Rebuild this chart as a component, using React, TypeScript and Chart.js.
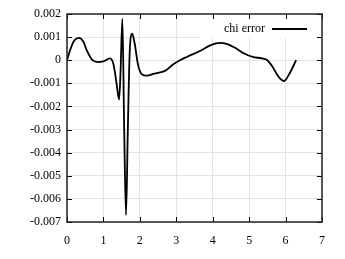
import React, { useEffect, useRef } from "react";
import { Chart, registerables } from "chart.js";

Chart.register(...registerables);

const xValues = [0, 0.1, 0.2, 0.33, 0.45, 0.55, 0.7, 0.85, 1.0, 1.18, 1.28, 1.36, 1.43, 1.47, 1.52, 1.57, 1.62, 1.67, 1.72, 1.79, 1.86, 1.95, 2.05, 2.19, 2.4, 2.7, 2.9, 3.1, 3.3, 3.65, 3.95, 4.2, 4.4, 4.6, 4.85, 5.1, 5.35, 5.5, 5.65, 5.8, 5.96, 6.1, 6.29];
const chiError = [0, 0.0005, 0.00085, 0.00097, 0.0008, 0.0004, 0.0, -0.00008, -0.00005, 0.00008, -0.0002, -0.001, -0.0017, -0.0005, 0.0018, -0.003, -0.0067, -0.003, 0.0003, 0.00115, 0.0007, -0.0002, -0.0006, -0.00067, -0.00058, -0.00045, -0.0002, 0.0, 0.00015, 0.0004, 0.00065, 0.00075, 0.0007, 0.00055, 0.0003, 0.00014, 0.00008, 0.0, -0.0003, -0.0007, -0.0009, -0.0006, 0.0];
const seriesLabel = "chi error";
const xMin = 0, xMax = 7, xStep = 1;
const yMin = -0.007, yMax = 0.002, yStep = 0.001;

const FONT = "'Liberation Serif', 'Times New Roman', serif";

const framePlugin = {
  id: "frame",
  beforeDatasetsDraw(chart: any) {
    const { ctx, chartArea } = chart;
    ctx.save();
    ctx.fillStyle = "#ffffff";
    ctx.fillRect(chartArea.right - 122, chartArea.top, 122, 24);
    ctx.restore();
  },
  afterDatasetsDraw(chart: any) {
    const { ctx, chartArea } = chart;
    ctx.save();
    ctx.font = "12px " + FONT;
    ctx.fillStyle = "#000";
    ctx.textAlign = "right";
    ctx.textBaseline = "middle";
    ctx.fillText(seriesLabel, chartArea.right - 57, chartArea.top + 15);
    ctx.strokeStyle = "#000";
    ctx.lineWidth = 1.8;
    ctx.beginPath();
    ctx.moveTo(chartArea.right - 50, chartArea.top + 15);
    ctx.lineTo(chartArea.right - 15, chartArea.top + 15);
    ctx.stroke();
    ctx.restore();
  },
  afterDraw(chart: any) {
    const { ctx, chartArea, scales } = chart;
    const { left, right, top, bottom } = chartArea;
    ctx.save();
    ctx.strokeStyle = "#000";
    ctx.lineWidth = 1;
    const len = 5;
    ctx.beginPath();
    scales.x.ticks.forEach((t: any) => {
      const px = Math.round(scales.x.getPixelForValue(t.value)) + 0.5;
      ctx.moveTo(px, bottom);
      ctx.lineTo(px, bottom - len);
      ctx.moveTo(px, top);
      ctx.lineTo(px, top + len);
    });
    scales.y.ticks.forEach((t: any) => {
      const py = Math.round(scales.y.getPixelForValue(t.value)) + 0.5;
      ctx.moveTo(left, py);
      ctx.lineTo(left + len, py);
      ctx.moveTo(right, py);
      ctx.lineTo(right - len, py);
    });
    ctx.stroke();
    ctx.strokeStyle = "#222";
    ctx.lineWidth = 1.5;
    ctx.strokeRect(left, top, right - left, bottom - top);
    ctx.restore();
  },
};

export default function App() {
  const ref = useRef<HTMLCanvasElement | null>(null);
  useEffect(() => {
    if (!ref.current) return;
    const chart = new Chart(ref.current, {
      type: "line",
      data: {
        datasets: [
          {
            label: seriesLabel,
            data: xValues.map((x, i) => ({ x, y: chiError[i] })),
            borderColor: "#000",
            borderWidth: 1.8,
            pointRadius: 0,
            fill: false,
            cubicInterpolationMode: "monotone",
          },
        ],
      },
      options: {
        animation: false,
        responsive: false,
        layout: { padding: { left: 0, right: 23, top: 14, bottom: 0 } },
        plugins: { legend: { display: false }, tooltip: { enabled: false } },
        scales: {
          x: {
            type: "linear",
            min: xMin,
            max: xMax,
            ticks: {
              stepSize: xStep,
              padding: 12,
              color: "#000",
              font: { family: FONT, size: 12 },
            },
            grid: { color: "#e4e4e4", drawTicks: false },
            border: { display: false },
            afterFit: (s: any) => { s.height = 37; },
          },
          y: {
            type: "linear",
            min: yMin,
            max: yMax,
            ticks: {
              stepSize: yStep,
              padding: 6,
              color: "#000",
              font: { family: FONT, size: 12 },
              callback: (v: any) => String(Math.round(Number(v) * 1000) / 1000),
            },
            grid: { color: "#e4e4e4", drawTicks: false },
            border: { display: false },
            afterFit: (s: any) => { s.width = 67; },
          },
        },
      },
      plugins: [framePlugin],
    } as any);
    return () => chart.destroy();
  }, []);
  return (
    <div style={{ position: "absolute", left: 0, top: 0, width: 345, height: 259, background: "#fff" }}>
      <canvas ref={ref} width={345} height={259} />
    </div>
  );
}
